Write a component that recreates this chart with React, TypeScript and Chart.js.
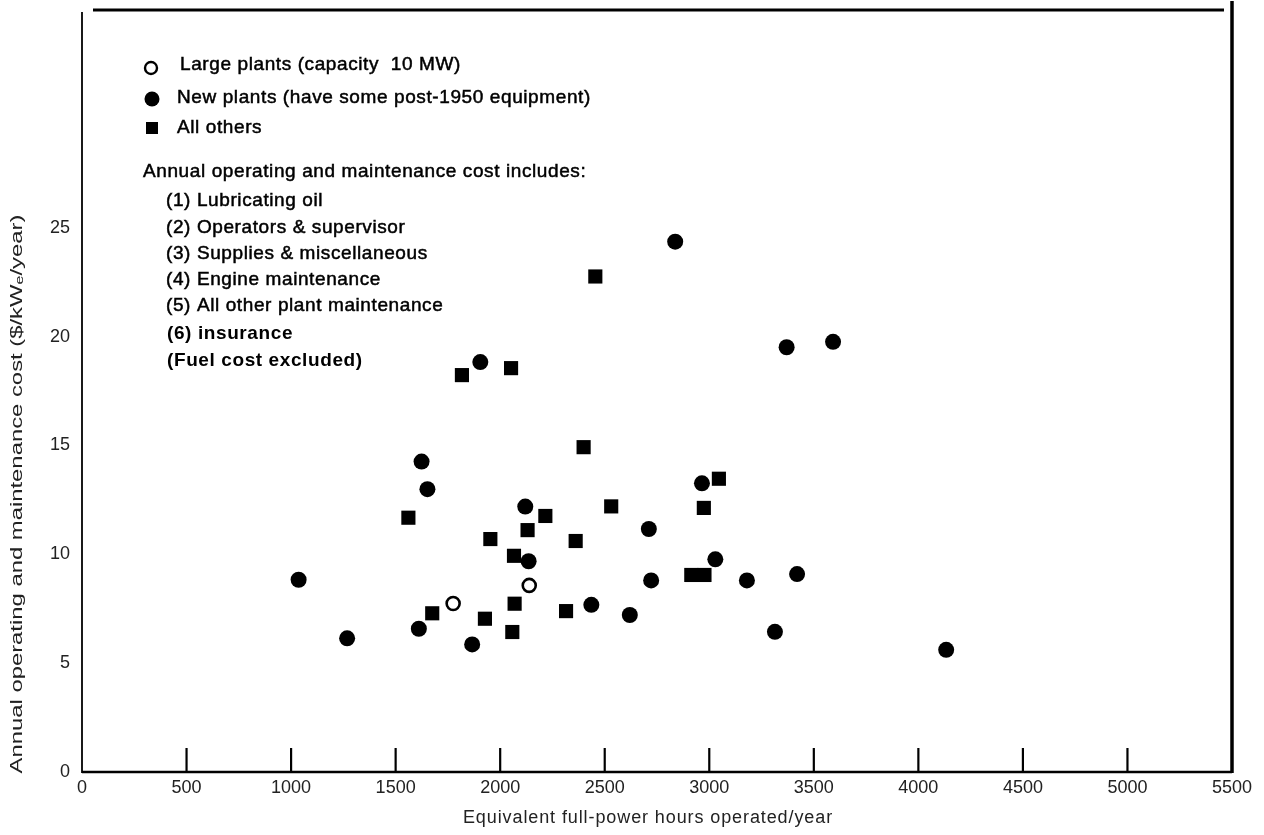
import React, { useEffect, useRef } from "react";
import { Chart, registerables } from "chart.js";

Chart.register(...registerables);

// ---- data ----
const largeX = [1775, 2139];
const largeY = [7.74, 8.57];

const newX = [1036, 1268, 1611, 1624, 1652, 1866, 1905, 2120, 2136, 2436, 2620, 2711, 2722, 2837, 2965, 3029, 3180, 3314, 3370, 3420, 3592, 4133];
const newY = [8.83, 6.14, 6.58, 14.26, 12.99, 5.86, 18.83, 12.19, 9.68, 7.68, 7.21, 11.16, 8.8, 24.36, 13.26, 9.77, 8.8, 6.44, 19.51, 9.09, 19.76, 5.61];

const otherX = [1561, 1675, 1817, 1927, 1953, 2052, 2058, 2066, 2069, 2131, 2216, 2315, 2361, 2399, 2455, 2531, 2914, 2977, 2974, 3046];
const otherY = [11.68, 7.29, 18.23, 7.04, 10.7, 18.55, 6.43, 9.93, 7.73, 11.11, 11.76, 7.39, 10.61, 14.92, 22.76, 12.2, 9.05, 9.05, 12.13, 13.47];

const seriesNames = [
  "Large plants (capacity  10 MW)",
  "New plants (have some post-1950 equipment)",
  "All others",
];

const noteHeading = "Annual operating and maintenance cost includes:";
const noteItems = [
  "(1) Lubricating oil",
  "(2) Operators & supervisor",
  "(3) Supplies & miscellaneous",
  "(4) Engine maintenance",
  "(5) All other plant maintenance",
];
const noteBold = ["(6) insurance", "(Fuel cost excluded)"];

const xTitle = "Equivalent full-power hours operated/year";
const yTitle = "Annual operating and maintenance cost ($/kW\u2091/year)";

const xMin = 0;
const xMax = 5500;
const xStep = 500;
const yMin = 0;
const yMax = 35;
const yStep = 5;
const yLabelMax = 25;

const toPoints = (xs: number[], ys: number[]) => xs.map((x, i) => ({ x, y: ys[i] }));

const FONT = "'Liberation Sans', Arial, Helvetica, sans-serif";

// stretches the y-axis title along its length and letter-spaces the x-axis title
const titleStylePlugin = {
  id: "titleStyle",
  beforeDraw(chart: any) {
    const ys = chart.scales.y;
    if (ys && !ys.__patched) {
      const orig = ys.drawTitle.bind(ys);
      ys.drawTitle = function () {
        const c = this.ctx;
        const cy = this.bottom - 3;
        c.save();
        c.translate(0, cy);
        c.scale(1, 1.49);
        c.translate(0, -cy);
        orig();
        c.restore();
      };
      ys.__patched = true;
    }
    const xs = chart.scales.x;
    if (xs && !xs.__patched) {
      const origX = xs.drawTitle.bind(xs);
      xs.drawTitle = function () {
        const c = this.ctx;
        c.save();
        c.translate(-9, 0);
        c.letterSpacing = "0.9px";
        origX();
        c.restore();
      };
      xs.__patched = true;
    }
  },
};

const framePlugin = {
  id: "frame",
  afterDraw(chart: any) {
    const { ctx, chartArea, scales } = chart;
    const { left, right, top, bottom } = chartArea;
    const x = scales.x;
    ctx.save();
    ctx.strokeStyle = "#000";
    const line = (x1: number, y1: number, x2: number, y2: number, w: number) => {
      ctx.lineWidth = w;
      ctx.beginPath();
      ctx.moveTo(x1, y1);
      ctx.lineTo(x2, y2);
      ctx.stroke();
    };
    line(left, top + 2, left, bottom + 1, 1.8);
    line(left, bottom, right, bottom, 2.6);
    line(left + 11, top, right - 8, top, 3);
    line(right, 1, right, bottom + 1, 3.5);
    x.ticks.forEach((t: any) => {
      if (t.value > xMin && t.value < xMax) {
        const px = x.getPixelForValue(t.value);
        line(px, bottom, px, bottom - 24, 2.2);
      }
    });
    ctx.restore();
  },
};

const legendPlugin = {
  id: "noteLegend",
  afterDraw(chart: any) {
    const { ctx, chartArea } = chart;
    const L = chartArea.left;
    const T = chartArea.top;
    ctx.save();
    ctx.fillStyle = "#000";
    ctx.strokeStyle = "#000";
    ctx.textBaseline = "middle";
    ctx.textAlign = "left";
    (ctx as any).letterSpacing = "0.6px";

    // markers
    ctx.lineWidth = 2.4;
    ctx.beginPath();
    ctx.arc(L + 69, T + 58, 6, 0, Math.PI * 2);
    ctx.stroke();
    ctx.beginPath();
    ctx.arc(L + 70, T + 89, 7.5, 0, Math.PI * 2);
    ctx.fill();
    ctx.fillRect(L + 64, T + 112, 12, 12);

    const drawText = (s: string, x: number, y: number, bold: boolean) => {
      ctx.font = (bold ? "bold " : "") + "19px " + FONT;
      ctx.fillText(s, x, y);
      if (!bold) {
        ctx.lineWidth = 0.5;
        ctx.strokeText(s, x, y);
      }
    };
    drawText(seriesNames[0], L + 98, T + 55, false);
    drawText(seriesNames[1], L + 95, T + 88, false);
    drawText(seriesNames[2], L + 95, T + 118, false);
    drawText(noteHeading, L + 61, T + 162, false);
    noteItems.forEach((s, i) => drawText(s, L + 84, T + 191 + i * 26.3, false));
    noteBold.forEach((s, i) => drawText(s, L + 85, T + 324 + i * 27, true));
    ctx.restore();
  },
};

export default function App() {
  const ref = useRef<HTMLCanvasElement | null>(null);

  useEffect(() => {
    if (!ref.current) return;
    const chart = new Chart(ref.current, {
      type: "scatter",
      data: {
        datasets: [
          {
            label: seriesNames[0],
            data: toPoints(largeX, largeY),
            pointStyle: "circle",
            pointRadius: 6.5,
            pointBorderWidth: 2.6,
            borderColor: "#000",
            backgroundColor: "#fff",
          },
          {
            label: seriesNames[1],
            data: toPoints(newX, newY),
            pointStyle: "circle",
            pointRadius: 8,
            pointBorderWidth: 0,
            borderColor: "#000",
            backgroundColor: "#000",
          },
          {
            label: seriesNames[2],
            data: toPoints(otherX, otherY),
            pointStyle: "rect",
            pointRadius: 10,
            pointBorderWidth: 0,
            borderColor: "#000",
            backgroundColor: "#000",
          },
        ],
      },
      options: {
        responsive: false,
        animation: false,
        layout: { padding: { top: 9, right: 32, left: 0, bottom: 0 } },
        plugins: {
          legend: { display: false },
          tooltip: { enabled: false },
        },
        scales: {
          x: {
            type: "linear",
            min: xMin,
            max: xMax,
            afterFit: (s: any) => {
              s.height = 63;
              s.paddingLeft = 0;
              s.paddingRight = 0;
            },
            grid: { display: false, drawTicks: false },
            border: { display: false },
            ticks: {
              stepSize: xStep,
              padding: 5,
              color: "#222",
              font: { family: FONT, size: 18 },
              maxRotation: 0,
              autoSkip: false,
              callback: (v: any) => String(v),
            },
            title: {
              display: true,
              text: xTitle,
              color: "#222",
              font: { family: FONT, size: 18 },
              padding: { top: 0, bottom: 6 },
            },
          },
          y: {
            type: "linear",
            min: yMin,
            max: yMax,
            afterFit: (s: any) => {
              s.width = 82;
              s.paddingTop = 0;
              s.paddingBottom = 0;
            },
            grid: { display: false, drawTicks: false },
            border: { display: false },
            ticks: {
              stepSize: yStep,
              padding: 12,
              color: "#222",
              font: { family: FONT, size: 18 },
              callback: (v: any) => (Number(v) <= yLabelMax ? String(v) : ""),
            },
            title: {
              display: true,
              text: yTitle,
              align: "start",
              color: "#222",
              font: { family: FONT, size: 16 },
              padding: { top: 8, bottom: 0 },
            },
          },
        },
      },
      plugins: [titleStylePlugin, framePlugin, legendPlugin],
    });
    return () => chart.destroy();
  }, []);

  return (
    <div style={{ position: "absolute", left: 0, top: 0, width: 1264, height: 835, background: "#fff" }}>
      <canvas ref={ref} width={1264} height={835} style={{ display: "block" }} />
    </div>
  );
}
